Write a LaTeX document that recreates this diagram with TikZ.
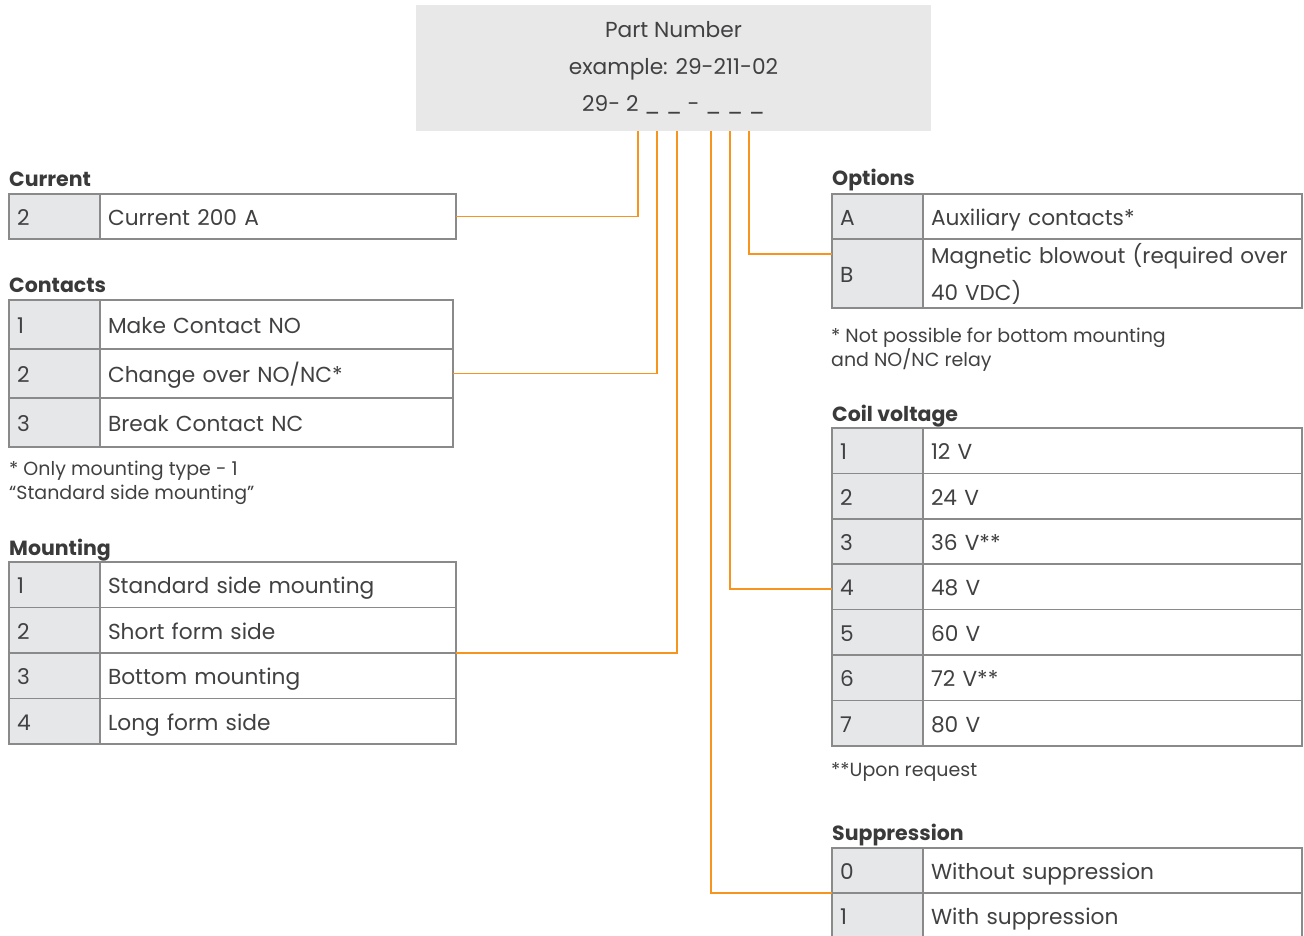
\documentclass[tikz,border=0pt]{standalone}
\usepackage{fontspec}
\setmainfont{Poppins}
\usetikzlibrary{positioning, calc}

\definecolor{txtgray}{HTML}{414042}
\definecolor{headgray}{HTML}{3A3A3A}
\definecolor{rulegray}{HTML}{8A8A8A}
\definecolor{keyfill}{HTML}{E6E7E8}
\definecolor{boxfill}{HTML}{E9E8E9}
\definecolor{wireorange}{HTML}{F7941D}

\newcommand{\tabfont}{\fontsize{21.7}{26}\selectfont}
\newcommand{\tabnotefont}{\fontsize{19}{24}\selectfont}
\newcommand{\tabheadfont}{\fontsize{20.5}{26}\selectfont\bfseries}

\tikzset{
  keycell/.style={draw=rulegray, fill=keyfill, line width=1.5pt, minimum height=#1,
    text width=75pt, inner xsep=8pt, inner ysep=0pt, outer sep=0pt, align=left,
    text height=20pt, text depth=2pt},
  valcell/.style 2 args={draw=rulegray, fill=white, line width=1.5pt, minimum height=#1,
    text width=#2, inner xsep=8pt, inner ysep=0pt, outer sep=0pt, align=left,
    text height=20pt, text depth=2pt},
  tabhead/.style={anchor=base west, inner sep=0pt, font=\tabheadfont, text=headgray},
  tabnote/.style={anchor=west, inner sep=0pt, align=left, font=\tabnotefont},
  pnbox/.style={fill=boxfill, minimum width=515pt, minimum height=126pt, inner sep=0pt,
    align=center, font=\fontsize{21.7}{37}\selectfont},
  wire/.style={draw=wireorange, line width=1.3pt}
}

\begin{document}
\begin{tikzpicture}[x=1pt, y=-1pt, node distance=0pt, font=\tabfont, text=txtgray]
  \useasboundingbox (0,0) rectangle (1304,936);

  % part number box
  \node[pnbox] (pn) at (673.5,68) {Part Number\\example: 29-211-02\\29- 2 \_ \_ - \_ \_ \_};
  \coordinate (tapcur)  at (638,131);
  \coordinate (tapcon)  at (657,131);
  \coordinate (tapmnt)  at (677,131);
  \coordinate (tapsup)  at (711,131);
  \coordinate (tapcoil) at (730,131);
  \coordinate (tapopt)  at (749,131);

  % current
  \node[tabhead] (curhead) at (9,187) {Current};
  \node[keycell=45, anchor=north west] (cur2k) at (9,194) {2};
  \node[valcell={45}{340pt}, right=of cur2k] (cur2v) {Current 200 A};

  % contacts
  \node[tabhead] (conhead) at (9,292) {Contacts};
  \node[keycell=49, anchor=north west] (con1k) at (9,300) {1};
  \node[valcell={49}{337pt}, right=of con1k] (con1v) {Make Contact NO};
  \node[keycell=49, below=of con1k] (con2k) {2};
  \node[valcell={49}{337pt}, right=of con2k] (con2v) {Change over NO/NC*};
  \node[keycell=49, below=of con2k] (con3k) {3};
  \node[valcell={49}{337pt}, right=of con3k] (con3v) {Break Contact NC};
  \node[tabnote] (connote) at (9,483) {* Only mounting type - 1\\“Standard side mounting”};

  % mounting
  \node[tabhead] (mnthead) at (9,555) {Mounting};
  \node[keycell=45.5, anchor=north west] (mnt1k) at (9,562) {1};
  \node[valcell={45.5}{340pt}, right=of mnt1k] (mnt1v) {Standard side mounting};
  \node[keycell=45.5, below=of mnt1k] (mnt2k) {2};
  \node[valcell={45.5}{340pt}, right=of mnt2k] (mnt2v) {Short form side};
  \node[keycell=45.5, below=of mnt2k] (mnt3k) {3};
  \node[valcell={45.5}{340pt}, right=of mnt3k] (mnt3v) {Bottom mounting};
  \node[keycell=45.5, below=of mnt3k] (mnt4k) {4};
  \node[valcell={45.5}{340pt}, right=of mnt4k] (mnt4v) {Long form side};

  % options
  \node[tabhead] (opthead) at (832,186) {Options};
  \node[keycell=45, anchor=north west] (optAk) at (832,194) {A};
  \node[valcell={45}{363pt}, right=of optAk] (optAv) {Auxiliary contacts*};
  \node[keycell=69, below=of optAk] (optBk) {B};
  \node[valcell={69}{363pt}, right=of optBk, text height={}, text depth={},
    font=\fontsize{21.5}{37}\selectfont] (optBv)
    {Magnetic blowout (required over\\40 VDC)};
  \coordinate (optin) at (832,254);
  \node[tabnote] (optnote) at (831,350) {* Not possible for bottom mounting\\and NO/NC relay};

  % coil voltage
  \node[tabhead] (coilhead) at (832,421) {Coil voltage};
  \node[keycell=45.4, anchor=north west] (coil1k) at (832,428) {1};
  \node[valcell={45.4}{363pt}, right=of coil1k] (coil1v) {12 V};
  \node[keycell=45.4, below=of coil1k] (coil2k) {2};
  \node[valcell={45.4}{363pt}, right=of coil2k] (coil2v) {24 V};
  \node[keycell=45.4, below=of coil2k] (coil3k) {3};
  \node[valcell={45.4}{363pt}, right=of coil3k] (coil3v) {36 V**};
  \node[keycell=45.4, below=of coil3k] (coil4k) {4};
  \node[valcell={45.4}{363pt}, right=of coil4k] (coil4v) {48 V};
  \node[keycell=45.4, below=of coil4k] (coil5k) {5};
  \node[valcell={45.4}{363pt}, right=of coil5k] (coil5v) {60 V};
  \node[keycell=45.4, below=of coil5k] (coil6k) {6};
  \node[valcell={45.4}{363pt}, right=of coil6k] (coil6v) {72 V**};
  \node[keycell=45.4, below=of coil6k] (coil7k) {7};
  \node[valcell={45.4}{363pt}, right=of coil7k] (coil7v) {80 V};
  \node[tabnote] (coilnote) at (831,772) {**Upon request};

  % suppression
  \node[tabhead] (suphead) at (832,840) {Suppression};
  \node[keycell=45, anchor=north west] (sup0k) at (832,848) {0};
  \node[valcell={45}{363pt}, right=of sup0k] (sup0v) {Without suppression};
  \node[keycell=45, below=of sup0k] (sup1k) {1};
  \node[valcell={45}{363pt}, right=of sup1k] (sup1v) {With suppression};

  % connectors
  \draw[wire] (tapcur)  |- (cur2v.east);
  \draw[wire] (tapcon)  |- (con2v.east);
  \draw[wire] (tapmnt)  |- (mnt2v.south east);
  \draw[wire] (tapsup)  |- (sup0k.south west);
  \draw[wire] (tapcoil) |- ([yshift=-2pt]coil4k.west);
  \draw[wire] (tapopt)  |- (optin);
\end{tikzpicture}
\end{document}
